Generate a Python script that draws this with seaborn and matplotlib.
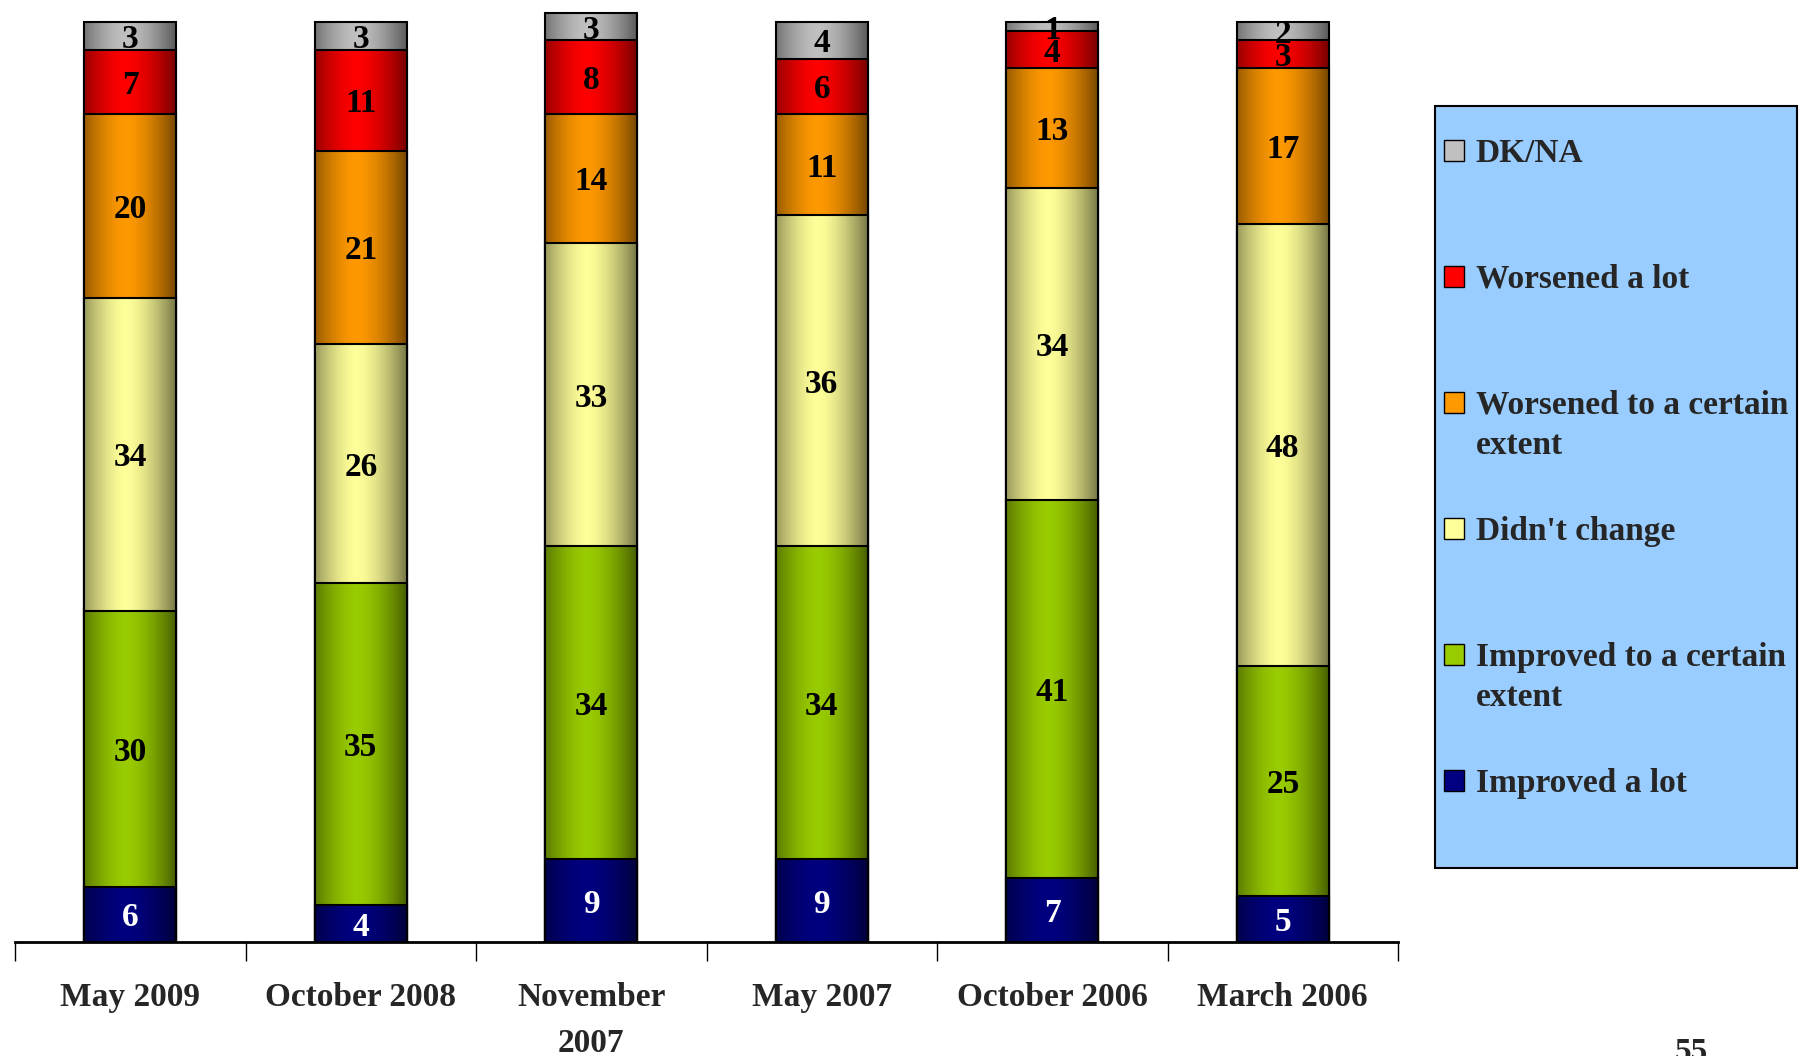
import numpy as np
import matplotlib.pyplot as plt
import matplotlib.colors as mcolors
from matplotlib.patches import Patch, Rectangle
from matplotlib.text import Annotation
import seaborn as sns

waves = ["May 2009", "October 2008", "November\n2007", "May 2007", "October 2006", "March 2006"]

improved_lot = [6, 4, 9, 9, 7, 5]
improved_some = [30, 35, 34, 34, 41, 25]
no_change = [34, 26, 33, 36, 34, 48]
worsened_some = [20, 21, 14, 11, 13, 17]
worsened_lot = [7, 11, 8, 6, 4, 3]
dk_na = [3, 3, 3, 4, 1, 2]

series_names = ["Improved a lot", "Improved to a certain\nextent", "Didn't change",
                "Worsened to a certain\nextent", "Worsened a lot", "DK/NA"]
series_colors = ["#000080", "#99CC00", "#FFFF99", "#FF9900", "#FF0000", "#C0C0C0"]


def shade(color, n=200):
    # horizontal gradient: darker at the bar edges, full colour near the middle
    t = np.linspace(0, 1, n)
    f = 1 - 0.55 * (np.abs(t - 0.45) / 0.55) ** 1.6
    rgb = np.array(mcolors.to_rgb(color))
    return (f[:, None] * rgb)[None, :, :]


def main():
    sns.set_style("white")
    plt.rcParams["font.family"] = ["Liberation Serif", "DejaVu Serif"]
    plt.rcParams["font.weight"] = "bold"

    fig = plt.figure(figsize=(18.14, 10.56), dpi=100)
    ax = fig.add_axes([15 / 1814, 0.108, 1383 / 1814, 0.8886])

    values = [improved_lot, improved_some, no_change, worsened_some, worsened_lot, dk_na]
    cum = np.cumsum(values, axis=0)

    # stacked bars: draw the cumulative totals from the top layer down
    z = 2
    for i in range(len(values) - 1, -1, -1):
        n0 = len(ax.patches)
        sns.barplot(x=waves, y=cum[i], order=waves, color=series_colors[i], saturation=1,
                    width=0.4, edgecolor="black", linewidth=1.5, errorbar=None, ax=ax)
        for p in ax.patches[n0:]:
            x0, y0 = p.get_x(), p.get_y()
            w, h = p.get_width(), p.get_height()
            im = ax.imshow(shade(series_colors[i]), extent=[x0, x0 + w, y0, y0 + h],
                           aspect="auto", zorder=z, interpolation="bilinear")
            im.set_clip_path(p)
            p.set_facecolor("none")
            p.set_zorder(z + 0.5)
        z += 1

    for i, vals in enumerate(values):
        for j, v in enumerate(vals):
            ax.text(j, cum[i][j] - v / 2, str(v), ha="center", va="center_baseline",
                    fontsize=24, color="white" if i == 0 else "black", zorder=20)

    ax.set_xlim(-0.5, 5.5)
    ax.set_ylim(0, 102)
    ax.set_yticks([])
    ax.set_xlabel("")
    ax.set_ylabel("")
    for s in ["left", "right", "top"]:
        ax.spines[s].set_visible(False)
    ax.spines["bottom"].set_linewidth(2)
    ax.spines["bottom"].set_color("black")
    ax.set_xticks(range(len(waves)))
    ax.set_xticklabels(waves)
    ax.set_xticks(np.arange(-0.5, len(waves), 1), minor=True)
    ax.tick_params(axis="x", which="major", length=0, pad=29, labelsize=24)
    ax.tick_params(axis="x", which="minor", length=14, width=1, color="black", bottom=True)
    for lab in ax.get_xticklabels():
        lab.set_linespacing(1.6)

    fig.add_artist(Rectangle((1435 / 1814, 1 - 868 / 1056), 362 / 1814, 762 / 1056,
                             transform=fig.transFigure, facecolor="#99CCFF",
                             edgecolor="black", linewidth=1.5, zorder=1))
    handles = [Patch(facecolor=c, edgecolor="black", linewidth=1) for c in series_colors][::-1]
    names = series_names[::-1]
    leg = fig.legend(handles, [n.split("\n")[0] for n in names], loc="upper left",
                     bbox_to_anchor=(1444 / 1814, 1 - 138 / 1056), frameon=False,
                     fontsize=24, labelspacing=2.85, handlelength=0.6, handleheight=0.6,
                     handletextpad=0.35, borderpad=0, borderaxespad=0)
    leg.set_zorder(5)
    # wrapped legend labels: second line sits under the first, handle stays on line one
    for t, name in zip(leg.get_texts(), names):
        if "\n" in name:
            fig.add_artist(Annotation(name.split("\n")[1], xy=(0, 1), xycoords=t,
                                      xytext=(0, -29), textcoords="offset points",
                                      ha="left", va="top", fontsize=24, zorder=6))

    fig.text(1691 / 1814, -5 / 1056, "55", ha="center", va="baseline", fontsize=24)

    fig.savefig("out.png", dpi=100)


if __name__ == "__main__":
    main()
